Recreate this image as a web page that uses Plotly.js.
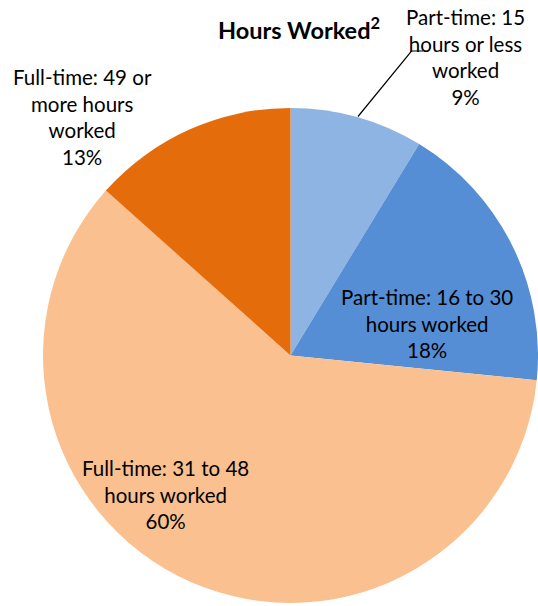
<!DOCTYPE html>
<html>
<head>
<meta charset="utf-8">
<script src="https://cdn.plot.ly/plotly-3.0.1.min.js"></script>
<style>html,body{margin:0;padding:0;background:#fff;overflow:hidden}#chart{width:538px;height:606px}</style>
</head>
<body>
<div id="chart"></div>
<script>
const categories = [
  "Part-time: 15<br>hours or less<br>worked",
  "Part-time: 16 to 30<br>hours worked",
  "Full-time: 31 to 48<br>hours worked",
  "Full-time: 49 or<br>more hours<br>worked"
];
const values = [8.7, 17.9, 60.0, 13.4];
const colors = ["#8EB4E3", "#558ED5", "#FAC090", "#E46C0A"];
const titleText = "Hours Worked<sup>2</sup>";

const W = 538, H = 606;
const FONT = "Lato, 'Liberation Sans', sans-serif";

// label anchor positions in pixels (layout only)
const labelPos = [[465, 57], [427, 323], [165, 495], [82, 117]];

const total = values.reduce((a, b) => a + b, 0);
const annotations = categories.map((c, i) => ({
  text: c + "<br>" + Math.round(values[i] / total * 100) + "%",
  xref: "paper", yref: "paper",
  x: labelPos[i][0] / W, y: 1 - labelPos[i][1] / H,
  xanchor: "center", yanchor: "middle",
  showarrow: false, align: "center",
  font: {family: FONT, size: 20.5, color: "#000"}
}));
annotations.push({
  text: "<b>" + titleText + "</b>",
  xref: "paper", yref: "paper",
  x: 299 / W, y: 1 - 28 / H, xanchor: "center", yanchor: "middle",
  showarrow: false, font: {family: FONT, size: 23.5, color: "#000"}
});

const px = (x) => x / W, py = (y) => 1 - y / H;

const data = [{
  type: "pie",
  values: values,
  labels: categories,
  marker: {colors: colors, line: {width: 0}},
  sort: false,
  direction: "clockwise",
  rotation: 0,
  textinfo: "none",
  hoverinfo: "none",
  showlegend: false,
  domain: {x: [43 / W, 1], y: [0.005, 0.822]}
}];

const layout = {
  width: W, height: H,
  margin: {l: 0, r: 0, t: 0, b: 0},
  paper_bgcolor: "#fff",
  showlegend: false,
  annotations: annotations,
  shapes: [{
    type: "path", xref: "paper", yref: "paper",
    path: `M ${px(358)} ${py(116.5)} L ${px(411.5)} ${py(51)} L ${px(423)} ${py(51)}`,
    line: {color: "#000", width: 1.2}
  }]
};

Plotly.newPlot("chart", data, layout, {displayModeBar: false, staticPlot: true});
</script>
</body>
</html>
